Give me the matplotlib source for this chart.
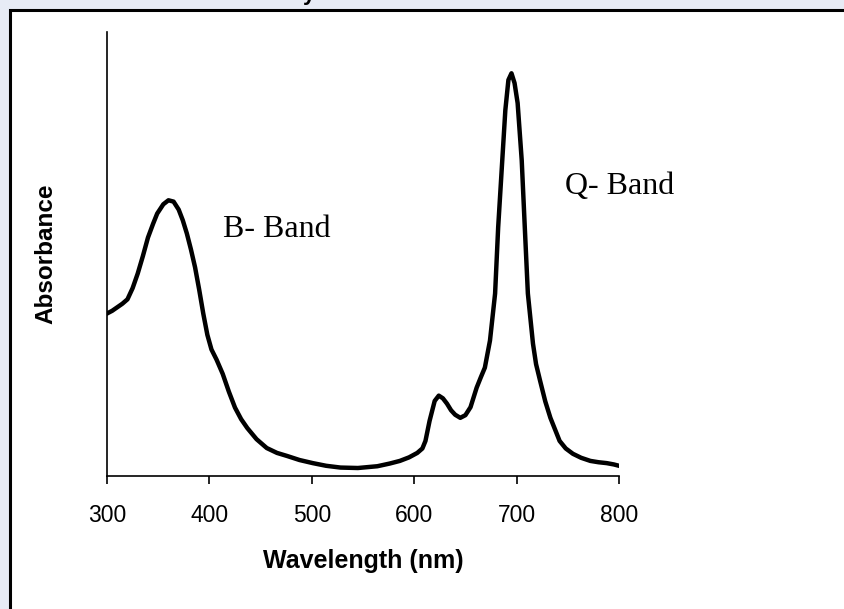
import matplotlib.pyplot as plt
from matplotlib.patches import Rectangle

# spectrum (arbitrary absorbance units, 0..1 = axis height)
wavelength = [300, 305, 310, 315, 320, 325, 330, 335, 340, 345, 349, 355, 360, 365, 370,
              374, 378, 382, 386, 390, 394, 398, 402, 407, 413, 419, 425, 431, 437, 446,
              456, 466, 476, 488, 501, 514, 528, 545, 564, 576, 586, 595, 603, 608, 611,
              615, 620, 624, 628, 632, 636, 640, 645, 650, 655, 661, 665, 669, 674, 679,
              682, 686, 689, 692, 695, 698, 701, 705, 708, 711, 716, 719, 723, 728, 733,
              742, 748, 755, 763, 772, 780, 788, 795, 800]
absorbance = [0.366, 0.372, 0.380, 0.388, 0.398, 0.423, 0.456, 0.495, 0.537, 0.568,
              0.591, 0.612, 0.621, 0.618, 0.600, 0.576, 0.546, 0.510, 0.470, 0.420,
              0.366, 0.318, 0.285, 0.262, 0.230, 0.190, 0.154, 0.128, 0.108, 0.083,
              0.063, 0.052, 0.045, 0.036, 0.029, 0.023, 0.019, 0.018, 0.022, 0.028,
              0.034, 0.042, 0.052, 0.062, 0.079, 0.124, 0.169, 0.181, 0.175, 0.163,
              0.148, 0.138, 0.131, 0.137, 0.155, 0.199, 0.222, 0.244, 0.305, 0.411,
              0.560, 0.711, 0.824, 0.892, 0.907, 0.885, 0.840, 0.711, 0.560, 0.411,
              0.298, 0.252, 0.214, 0.168, 0.131, 0.079, 0.062, 0.050, 0.041, 0.034,
              0.031, 0.029, 0.026, 0.023]
xticks = [300, 400, 500, 600, 700, 800]

W, H = 844, 609
fig = plt.figure(figsize=(W / 100, H / 100), dpi=100)
fig.patch.set_facecolor('#e7ebf5')

# white slide frame (the slide title is cut off above it)
fig.text(309 / W, 1.0, 'y', fontsize=16, fontweight='bold', family='Liberation Sans',
         ha='center', va='baseline')
fig.patches.append(Rectangle((9.5 / W, -0.01), 1.0, 1 - 9.5 / H + 0.01, transform=fig.transFigure,
                             facecolor='white', edgecolor='black', linewidth=2.2, zorder=-1))

ax = fig.add_axes([107 / W, 1 - 476 / H, 512 / W, 444 / H])
ax.set_zorder(2)
ax.set_facecolor('none')
ax.plot(wavelength, absorbance, color='black', linewidth=3.2, solid_joinstyle='round')

ax.set_xlim(300, 800)
ax.set_ylim(0, 1)
ax.set_xticks(xticks)
ax.set_yticks([])
for s in ['top', 'right']:
    ax.spines[s].set_visible(False)
for s in ['left', 'bottom']:
    ax.spines[s].set_linewidth(1.2)
ax.tick_params(axis='x', direction='out', length=6, width=1.2, pad=14, labelsize=16.5)
for lab in ax.get_xticklabels():
    lab.set_family('Liberation Sans')

ax.set_xlabel('Wavelength (nm)', fontsize=18, fontweight='bold', family='Liberation Sans',
              labelpad=16)
ax.set_ylabel('Absorbance', fontsize=17.5, fontweight='bold', family='Liberation Sans',
              labelpad=36)

ax.text(413, 0.556, 'B- Band', fontsize=23, family='Liberation Serif', ha='left', va='center')
ax.text(747, 0.651, 'Q- Band', fontsize=23, family='Liberation Serif', ha='left', va='center')

fig.savefig('out.png', dpi=100, facecolor=fig.get_facecolor())
